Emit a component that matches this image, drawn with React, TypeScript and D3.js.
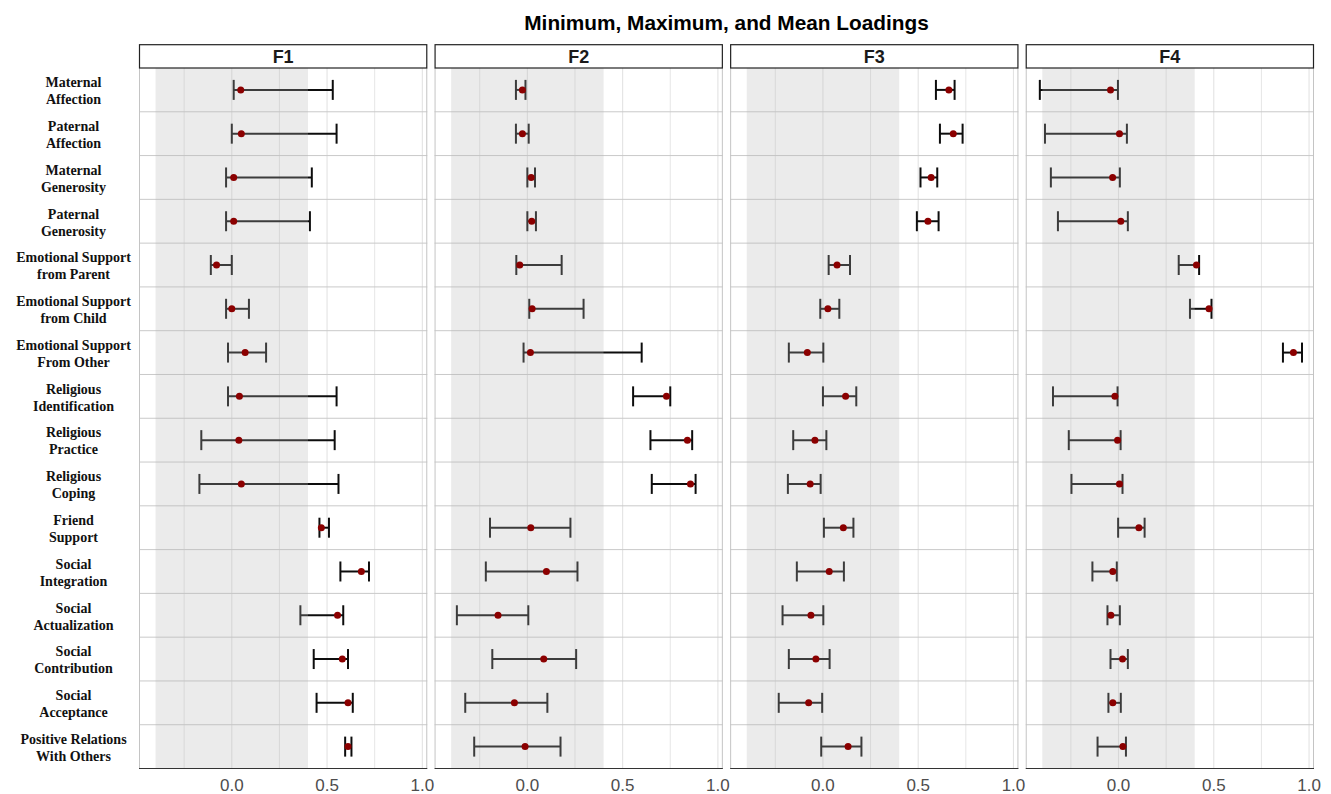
import React from "react";
import * as d3 from "d3";

const categories = [
  "Maternal\nAffection",
  "Paternal\nAffection",
  "Maternal\nGenerosity",
  "Paternal\nGenerosity",
  "Emotional Support\nfrom Parent",
  "Emotional Support\nfrom Child",
  "Emotional Support\nFrom Other",
  "Religious\nIdentification",
  "Religious\nPractice",
  "Religious\nCoping",
  "Friend\nSupport",
  "Social\nIntegration",
  "Social\nActualization",
  "Social\nContribution",
  "Social\nAcceptance",
  "Positive Relations\nWith Others",
];

const factors = ["F1", "F2", "F3", "F4"];

// loadings read per factor: min, mean, max
const f1Min = [0.01, 0.0, -0.03, -0.03, -0.11, -0.03, -0.02, -0.02, -0.16, -0.17, 0.46, 0.57, 0.36, 0.43, 0.445, 0.595];
const f1Mean = [0.047, 0.05, 0.01, 0.01, -0.08, 0.0, 0.07, 0.04, 0.037, 0.05, 0.47, 0.68, 0.555, 0.58, 0.61, 0.61];
const f1Max = [0.53, 0.55, 0.42, 0.41, 0.0, 0.09, 0.18, 0.55, 0.54, 0.56, 0.51, 0.72, 0.585, 0.61, 0.635, 0.628];

const f2Min = [-0.06, -0.06, 0.0, 0.0, -0.058, 0.01, -0.02, 0.555, 0.646, 0.653, -0.196, -0.218, -0.37, -0.184, -0.326, -0.279];
const f2Mean = [-0.026, -0.026, 0.02, 0.023, -0.04, 0.025, 0.016, 0.73, 0.84, 0.856, 0.018, 0.1, -0.154, 0.086, -0.068, -0.012];
const f2Max = [-0.01, 0.007, 0.04, 0.045, 0.18, 0.295, 0.6, 0.75, 0.865, 0.883, 0.226, 0.263, 0.005, 0.256, 0.105, 0.174];

const f3Min = [0.593, 0.614, 0.512, 0.493, 0.03, -0.014, -0.179, 0.0, -0.156, -0.184, 0.005, -0.137, -0.212, -0.179, -0.232, -0.009];
const f3Mean = [0.661, 0.684, 0.568, 0.551, 0.074, 0.026, -0.082, 0.119, -0.042, -0.067, 0.107, 0.033, -0.063, -0.037, -0.075, 0.132];
const f3Max = [0.691, 0.733, 0.6, 0.607, 0.142, 0.086, 0.002, 0.175, 0.018, -0.012, 0.16, 0.11, 0.002, 0.035, -0.004, 0.202];

const f4Min = [-0.413, -0.386, -0.355, -0.318, 0.316, 0.375, 0.863, -0.344, -0.261, -0.247, -0.002, -0.137, -0.058, -0.042, -0.053, -0.11];
const f4Mean = [-0.042, 0.005, -0.031, 0.012, 0.409, 0.475, 0.918, -0.019, -0.005, 0.005, 0.107, -0.03, -0.04, 0.021, -0.03, 0.023];
const f4Max = [-0.003, 0.044, 0.007, 0.049, 0.423, 0.488, 0.963, -0.005, 0.011, 0.021, 0.137, -0.009, 0.007, 0.049, 0.012, 0.039];

const majorTicks = [0, 0.5, 1.0];
const minorTicks = [-0.25, 0.25, 0.75];
const band = [-0.4, 0.4];

const mins = [f1Min, f2Min, f3Min, f4Min];
const means = [f1Mean, f2Mean, f3Mean, f4Mean];
const maxs = [f1Max, f2Max, f3Max, f4Max];

const W = 1331;
const H = 794;
const left = 139;
const right = 1314;
const gap = 7.3;
const stripTop = 44.7;
const plotTop = 68;
const plotBottom = 768.5;

const App = () => {
  const panelW = (right - left - gap * (factors.length - 1)) / factors.length;
  const x = d3.scaleLinear().domain([-0.487, 1.026]).range([0, panelW]);
  const y = d3.scaleBand().domain(categories).range([plotTop, plotBottom]).padding(0);
  const fmt = d3.format(".1f");
  const capH = 10;
  const sans = "'Liberation Sans', Arial, Helvetica, sans-serif";
  const serif = "'Liberation Serif', 'Times New Roman', serif";

  return (
    <svg width={W} height={H} style={{ position: "absolute", left: 0, top: 0 }}>
      <rect width={W} height={H} fill="white" />
      <text
        x={(left + right) / 2}
        y={22}
        textAnchor="middle"
        dominantBaseline="central"
        fontFamily={sans}
        fontWeight="bold"
        fontSize={20.8}
        fill="#000"
      >
        Minimum, Maximum, and Mean Loadings
      </text>

      {/* y labels */}
      {categories.map((c) => {
        const cy = y(c)! + y.bandwidth() / 2;
        const lines = c.split("\n");
        return (
          <text
            key={c}
            x={73.5}
            textAnchor="middle"
            fontFamily={serif}
            fontWeight="bold"
            fontSize={14}
            fill="#111"
          >
            {lines.map((l, j) => (
              <tspan key={j} x={73.5} y={cy + 1.3 + (j === 0 ? -8.5 : 8.5)} dominantBaseline="central">
                {l}
              </tspan>
            ))}
          </text>
        );
      })}

      {factors.map((f, i) => {
        const px = left + i * (panelW + gap);
        return (
          <g key={f} transform={`translate(${px},0)`}>
            {/* grid */}
            {minorTicks.map((t) => (
              <line key={"mi" + t} x1={x(t)} x2={x(t)} y1={plotTop} y2={plotBottom} stroke="#e6e6e6" strokeWidth={1} />
            ))}
            {majorTicks.map((t) => (
              <line key={"ma" + t} x1={x(t)} x2={x(t)} y1={plotTop} y2={plotBottom} stroke="#e3e3e3" strokeWidth={1.1} />
            ))}
            {categories.slice(1).map((c) => (
              <line key={c} x1={0} x2={panelW} y1={y(c)} y2={y(c)} stroke="#c9c9c9" strokeWidth={1} />
            ))}
            <line x1={0.5} x2={0.5} y1={plotTop} y2={plotBottom} stroke="#c4c4c4" strokeWidth={1} />
            <line x1={panelW - 0.5} x2={panelW - 0.5} y1={plotTop} y2={plotBottom} stroke="#c4c4c4" strokeWidth={1} />

            {/* error bars */}
            {categories.map((c, k) => {
              const cy = y(c)! + y.bandwidth() / 2;
              const x0 = x(mins[i][k]);
              const x1 = x(maxs[i][k]);
              return (
                <g key={c} stroke="#0d0d0d" strokeWidth={2}>
                  <line x1={x0} x2={x1} y1={cy} y2={cy} />
                  <line x1={x0} x2={x0} y1={cy - capH} y2={cy + capH} />
                  <line x1={x1} x2={x1} y1={cy - capH} y2={cy + capH} />
                </g>
              );
            })}

            {/* shaded band */}
            <rect
              x={x(band[0])}
              width={x(band[1]) - x(band[0])}
              y={plotTop}
              height={plotBottom - plotTop}
              fill="rgb(183,183,183)"
              fillOpacity={0.28}
            />

            {/* means */}
            {categories.map((c, k) => (
              <circle
                key={c}
                cx={x(means[i][k])}
                cy={y(c)! + y.bandwidth() / 2}
                r={3.5}
                fill="#8b0000"
              />
            ))}

            {/* strip */}
            <rect
              x={0.5}
              y={stripTop}
              width={panelW - 1}
              height={plotTop - stripTop}
              fill="white"
              stroke="#222"
              strokeWidth={1.2}
            />
            <text
              x={panelW / 2}
              y={(stripTop + plotTop) / 2 + 1}
              textAnchor="middle"
              dominantBaseline="central"
              fontFamily={sans}
              fontWeight="bold"
              fontSize={18}
              fill="#1a1a1a"
            >
              {f}
            </text>

            {/* x axis */}
            <line x1={0} x2={panelW} y1={plotBottom} y2={plotBottom} stroke="#333" strokeWidth={1.1} />
            {majorTicks.map((t) => (
              <text
                key={"tl" + t}
                x={x(t)}
                y={785}
                textAnchor="middle"
                dominantBaseline="central"
                fontFamily={sans}
                fontSize={17}
                fill="#4d4d4d"
              >
                {fmt(t)}
              </text>
            ))}
          </g>
        );
      })}
    </svg>
  );
};

export default App;
